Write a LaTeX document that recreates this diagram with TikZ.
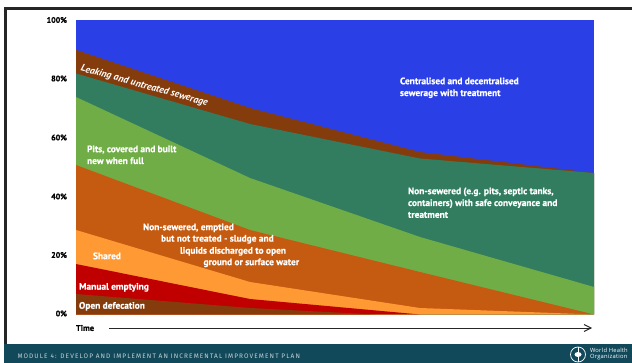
\documentclass[tikz,border=0pt]{standalone}
\usepackage{fontspec}
\usetikzlibrary{arrows.meta}
\setmainfont{PT Sans}
\newfontfamily\labelfont[BoldFeatures={FakeBold=0.6}]{PT Sans}
\newfontfamily\modfont[LetterSpace=17]{Fira Sans}
\newfontfamily\whofont[LetterSpace=4]{Open Sans}
\definecolor{cblue}{HTML}{2B3FE6}
\definecolor{cbrown}{HTML}{843C0C}
\definecolor{cteal}{HTML}{327D60}
\definecolor{cgreen}{HTML}{70AD47}
\definecolor{cburnt}{HTML}{C55A11}
\definecolor{corange}{HTML}{FF9933}
\definecolor{cred}{HTML}{C00000}
\definecolor{cbar}{HTML}{11495A}
\tikzset{
  every node/.style={inner sep=0pt,outer sep=0pt},
  area/.style={fill=#1,draw=none},
  axislabel/.style={font=\labelfont\bfseries\fontsize{8}{9}\selectfont,anchor=east,text=black},
  inlabel/.style={font=\labelfont\bfseries\fontsize{9.4}{11.8}\selectfont,text=white,anchor=north west,align=left},
}
\begin{document}
\begin{tikzpicture}[x=1pt,y=-1pt]
\useasboundingbox (0,0) rectangle (632,363);
\fill[white] (0,0) rectangle (632,363);
% frame
\fill[black!85] (4,7.5) rectangle (632,10.5);
\fill[black!85] (4,7.5) rectangle (7,344);
% stacked areas
\fill[area=cblue] (76,20.5) rectangle (594,314.5);
\fill[area=cbrown] (76,50) -- (250,108) -- (420,152) -- (594,173) -- (594,314.5) -- (76,314.5) -- cycle;
\fill[area=cteal] (76,73.5) -- (250,124) -- (420,158.5) -- (594,173) -- (594,314.5) -- (76,314.5) -- cycle;
\fill[area=cgreen] (76,97) -- (250,178) -- (420,237) -- (594,287) -- (594,314.5) -- (76,314.5) -- cycle;
\fill[area=cburnt] (76,165) -- (250,230) -- (420,272) -- (594,314.5) -- (76,314.5) -- cycle;
\fill[area=corange] (76,230) -- (250,282) -- (420,308) -- (594,314.5) -- (76,314.5) -- cycle;
\fill[area=cred] (76,264) -- (250,299) -- (420,314.5) -- (76,314.5) -- cycle;
\fill[area=cbrown] (76,294) -- (250,308) -- (375,314.5) -- (76,314.5) -- cycle;
% axis labels
\node[axislabel] (p100) at (67,20) {100\%};
\node[axislabel] (p80) at (67,78.5) {80\%};
\node[axislabel] (p60) at (67,137.5) {60\%};
\node[axislabel] (p40) at (67,196.5) {40\%};
\node[axislabel] (p20) at (67,255) {20\%};
\node[axislabel] (p0) at (67,313.5) {0\%};
% labels in areas
\node[inlabel,anchor=north west] (central) at (400,77.5) {Centralised and decentralised\\sewerage with treatment};
\node[inlabel,rotate=-15.5,anchor=west,font=\labelfont\bfseries\itshape\fontsize{9.9}{10}\selectfont] (leak) at (81,68.5) {Leaking and untreated sewerage};
\node[inlabel] (pits) at (87,145.5) {Pits, covered and built\\new when full};
\node[inlabel] (safe) at (408,187.5) {Non-sewered (e.g. pits, septic tanks,\\containers) with safe conveyance and\\treatment};
\node[inlabel,anchor=north west] (ne1) at (143,223.5) {Non-sewered, emptied};
\node[inlabel,anchor=north west] (ne2) at (161,235) {but not treated - sludge and};
\node[inlabel,anchor=north west] (ne3) at (180,247) {liquids discharged to open};
\node[inlabel,anchor=north west] (ne4) at (203.5,258.5) {ground or surface water};
\node[inlabel] (shared) at (93,252.5) {Shared};
\node[inlabel] (manual) at (79,283) {Manual emptying};
\node[inlabel] (open) at (79,302) {Open defecation};
% time arrow
\node[font=\labelfont\bfseries\fontsize{8.4}{10}\selectfont,anchor=west] (time) at (76,328) {Time};
\coordinate (tend) at (592,328);
\draw[line width=.8pt,black!85,-{Straight Barb[length=7pt,width=7pt,line width=.9pt]}] (109,328) -- (tend);
% footer
\fill[cbar] (4,344) rectangle (632,363);
\node[font=\modfont\fontsize{6.5}{7}\selectfont,text=white!75!cbar,anchor=west] (module) at (17.5,356.5) {MODULE 4: DEVELOP AND IMPLEMENT AN INCREMENTAL IMPROVEMENT PLAN};
\node[draw=white,line width=.7pt,circle,minimum size=15pt,anchor=center] (emblem) at (578,354.5) {};
\draw[white,line width=.9pt] (578,347) -- (578,362);
\fill[white] (578,354.5) ellipse (3.5pt and 2.5pt);
\node[font=\whofont\fontsize{5.8}{5.8}\selectfont,text=white,anchor=west,align=left] (who) at (590,354) {World Health\\Organization};
\end{tikzpicture}
\end{document}
